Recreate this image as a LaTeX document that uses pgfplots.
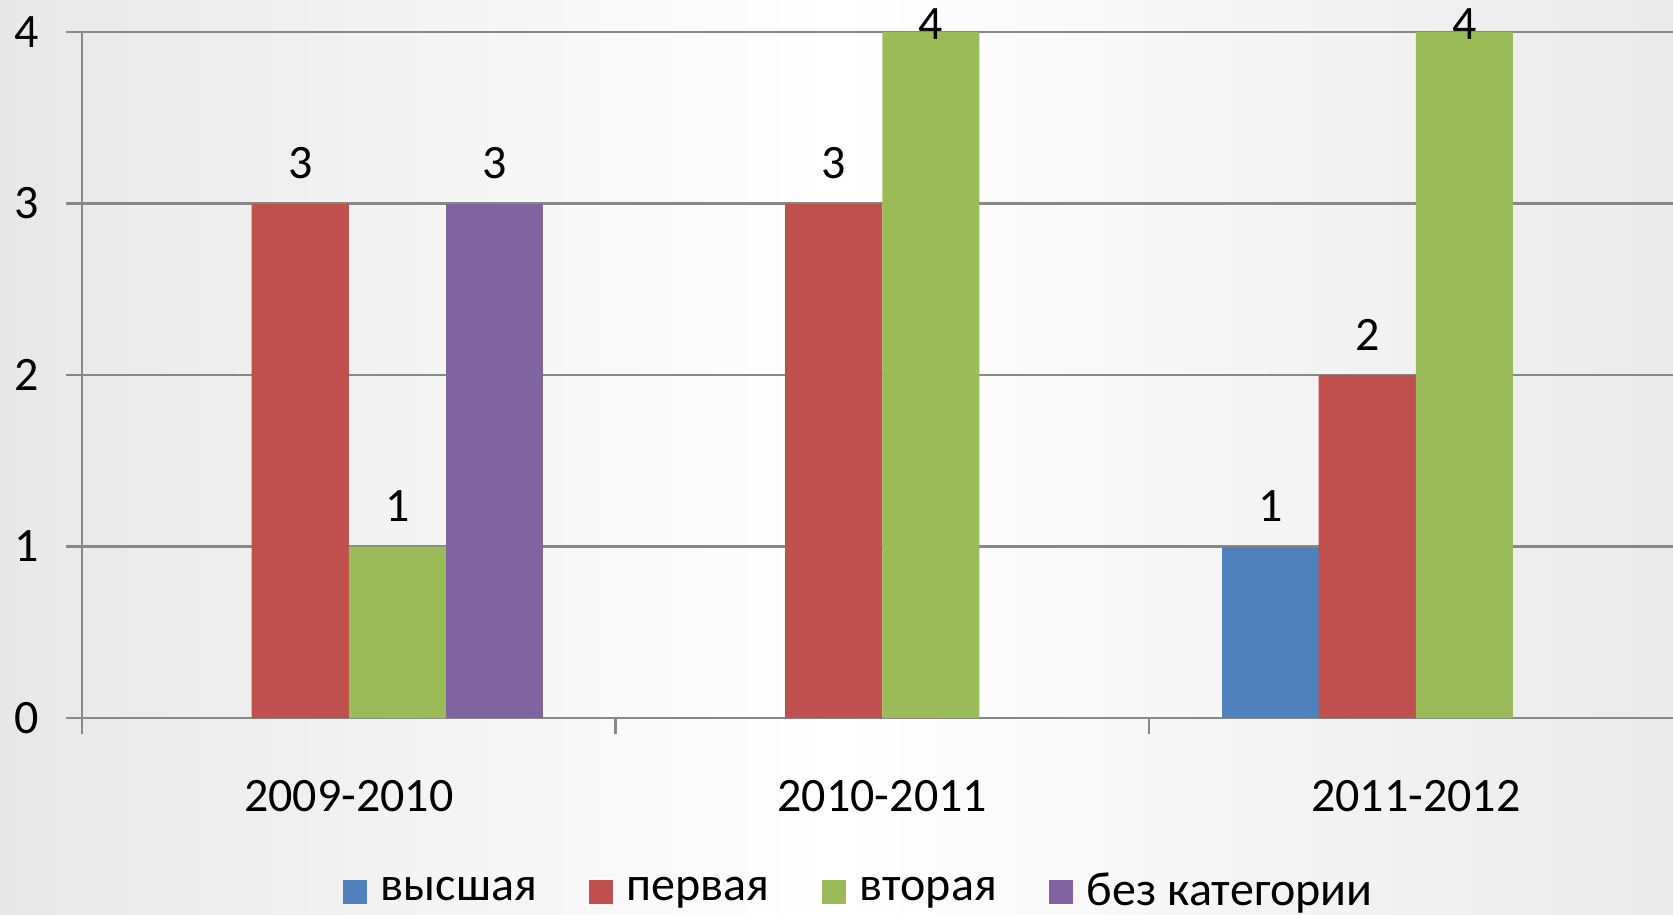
\documentclass[border=0pt]{standalone}
\usepackage{fontspec}
\setmainfont{Carlito}
\usepackage{pgfplots}
\pgfplotsset{compat=1.18}
\definecolor{cBlue}{HTML}{4F81BD}
\definecolor{cRed}{HTML}{C0504D}
\definecolor{cGreen}{HTML}{9BBB59}
\definecolor{cPurple}{HTML}{8064A2}
\definecolor{gridc}{HTML}{888888}
\begin{document}
\begin{tikzpicture}
\useasboundingbox (-20.5pt,-49pt) rectangle (397.75pt,179.5pt);
\shade[left color=black!9, right color=black!8, middle color=white] (-20.5pt,-49pt) rectangle (397.75pt,179.5pt);
\begin{axis}[
  at={(0,0)}, anchor=south west,
  scale only axis, width=397.75pt, height=171.5pt,
  xmin=-0.5, xmax=2.482, ymin=0, ymax=4,
  ybar, bar width=0.182,
  axis lines*=left,
  axis line style={gridc, line width=0.6pt},
  ytick={0,1,2,3,4},
  ymajorgrids, grid style={gridc, line width=0.6pt},
  tick align=outside, tick style={gridc, line width=0.6pt},
  major tick length=4pt, minor tick length=4pt,
  xtick={0,1,2}, xticklabels={2009-2010,2010-2011,2011-2012},
  major x tick style={draw=none},
  minor xtick={-0.5,0.5,1.5,2.5},
  font=\fontsize{12}{14}\selectfont,
  tick label style={font=\fontsize{12}{14}\selectfont, text=black},
  xticklabel style={yshift=-8pt},
  yticklabel style={xshift=-3.3pt},
  /pgf/number format/assume math mode=true,
  visualization depends on={y \as \rawy},
  nodes near coords,
  every node near coord/.append style={anchor=center, text=black, font=\fontsize{12}{14}\selectfont, yshift={\rawy>3.5 ? 2 : 10}},
  legend columns=4,
  legend style={at={(0.49,-0.254)}, anchor=center, draw=none, fill=none,
    font=\fontsize{12}{14}\selectfont,
    /tikz/every even column/.append style={column sep=11pt}},
  legend image code/.code={\fill[#1] (0pt,-3pt) rectangle (6pt,3pt); \path (7.5pt,0pt);},
]
\addplot[fill=cBlue, draw=none, bar shift=-0.273] coordinates {(2,1)};
\addplot[fill=cRed, draw=none, bar shift=-0.091] coordinates {(0,3) (1,3) (2,2)};
\addplot[fill=cGreen, draw=none, bar shift=0.091] coordinates {(0,1) (1,4) (2,4)};
\addplot[fill=cPurple, draw=none, bar shift=0.273] coordinates {(0,3)};
\legend{высшая, первая, вторая, без категории}
\end{axis}
\end{tikzpicture}
\end{document}
